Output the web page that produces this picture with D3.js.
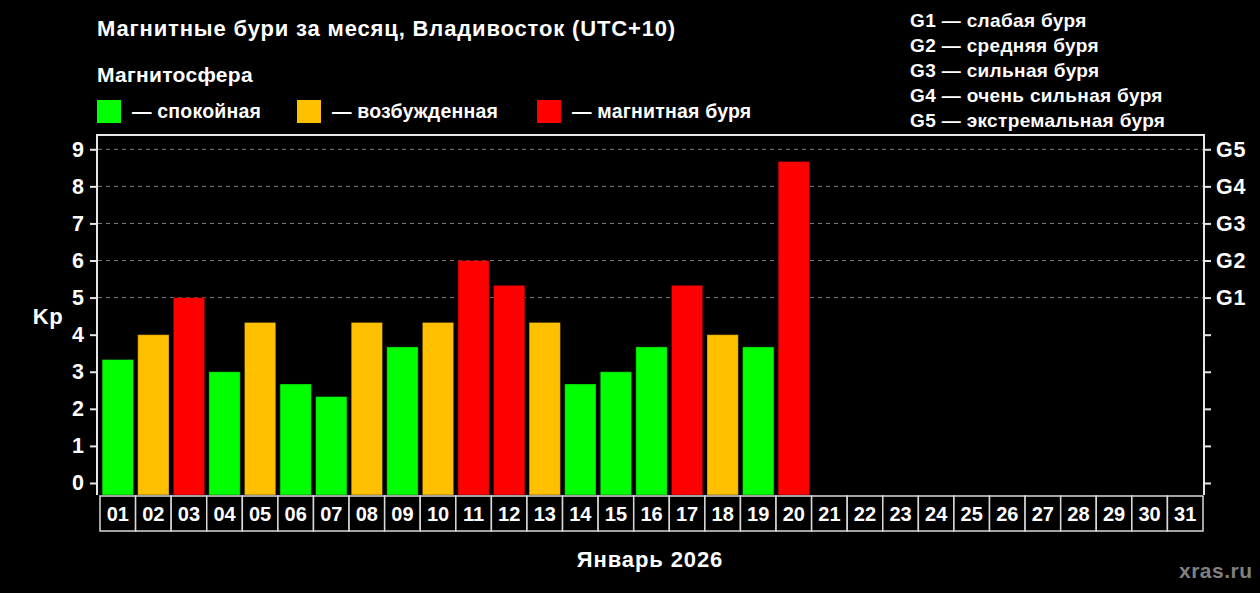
<!DOCTYPE html>
<html>
<head>
<meta charset="utf-8">
<script src="https://cdn.jsdelivr.net/npm/d3@7"></script>
<style>
  body { margin: 0; background: #000; }
  text { font-family: "Liberation Sans", Arial, sans-serif; font-weight: bold; fill: #fff; }
</style>
</head>
<body>
<script>
// data
var days = d3.range(1, 32).map(function (d) { return d3.format("02")(d); });
var kp = [3.33, 4, 5, 3, 4.33, 2.67, 2.33, 4.33, 3.67, 4.33, 6, 5.33, 4.33, 2.67, 3, 3.67, 5.33, 4, 3.67, 8.67];
var gLevels = ["G1", "G2", "G3", "G4", "G5"];
var gNames = ["G1 — слабая буря", "G2 — средняя буря", "G3 — сильная буря", "G4 — очень сильная буря", "G5 — экстремальная буря"];
var stateNames = ["— спокойная", "— возбужденная", "— магнитная буря"];
var stateColors = ["#00ff00", "#ffc000", "#ff0000"];

var w = 1260, h = 593;
var svg = d3.select("body").append("svg").attr("width", w).attr("height", h).style("background-color", "#000");

var x = d3.scaleBand().domain(days).range([100, 1203]).paddingInner(0.12).paddingOuter(0.06);
var xBox = d3.scaleBand().domain(days).range([100, 1203]);
var y = d3.scaleLinear().domain([-0.324, 9.385]).range([495, 135]);

function colorOf(v) {
  if (v >= 5) return stateColors[2];
  if (v >= 4) return stateColors[1];
  return stateColors[0];
}

// title & legend
svg.append("text").attr("x", 97).attr("y", 36).style("font-size", "22px").style("letter-spacing", "0.85px")
  .text("Магнитные бури за месяц, Владивосток (UTC+10)");
svg.append("text").attr("x", 97).attr("y", 82).style("font-size", "21px").style("letter-spacing", "0.3px").text("Магнитосфера");

var legX = [97, 297, 537];
stateNames.forEach(function (s, i) {
  svg.append("rect").attr("x", legX[i]).attr("y", 100).attr("width", 24).attr("height", 23).attr("fill", stateColors[i]);
  svg.append("text").attr("x", legX[i] + 35).attr("y", 118).style("font-size", "19.5px").style("letter-spacing", "0.2px").text(s);
});

gNames.forEach(function (s, i) {
  svg.append("text").attr("x", 910).attr("y", 27 + i * 25).style("font-size", "19px").style("letter-spacing", "0.35px").text(s);
});

// gridlines at G levels
svg.append("g").selectAll("line").data([5, 6, 7, 8, 9]).enter().append("line")
  .attr("x1", 98).attr("x2", 1203)
  .attr("y1", function (d) { return y(d); }).attr("y2", function (d) { return y(d); })
  .attr("stroke", "#808080").attr("stroke-dasharray", "4,4").attr("stroke-width", 1);

// bars
svg.append("g").selectAll("rect").data(kp).enter().append("rect")
  .attr("x", function (d, i) { return x(days[i]); })
  .attr("width", x.bandwidth())
  .attr("y", function (d) { return y(d); })
  .attr("height", function (d) { return y.range()[0] - y(d); })
  .attr("fill", function (d) { return colorOf(d); })
  .attr("stroke", "rgba(0,0,0,0.35)").attr("stroke-width", 1);

// frame
svg.append("path").attr("d", "M97,495V135H1204V495").attr("fill", "none").attr("stroke", "#e6e6e6").attr("stroke-width", 2);

// axes
var yTicks = d3.range(0, 10);
var left = svg.append("g").attr("transform", "translate(97,0)")
  .call(d3.axisLeft(y).tickValues(yTicks).tickSize(7).tickPadding(6).tickFormat(d3.format("d")));
var right = svg.append("g").attr("transform", "translate(1204,0)")
  .call(d3.axisRight(y).tickValues(yTicks).tickSize(7).tickPadding(5)
    .tickFormat(function (d) { return d >= 5 ? gLevels[d - 5] : ""; }));
[left, right].forEach(function (g) {
  g.select(".domain").remove();
  g.selectAll(".tick line").attr("stroke", "#e6e6e6").attr("stroke-width", 2);
  g.selectAll(".tick text").attr("fill", "#fff").style("font-family", "'Liberation Sans', Arial, sans-serif")
    .style("font-weight", "bold").style("font-size", "21.5px");
});
right.selectAll(".tick text").style("letter-spacing", "0.8px");

svg.append("text").attr("x", 48).attr("y", 324).attr("text-anchor", "middle").style("font-size", "22px").style("letter-spacing", "0.5px").text("Kp");

// day boxes
var boxes = svg.append("g").selectAll("g").data(days).enter().append("g");
boxes.append("rect")
  .attr("x", function (d) { return xBox(d); }).attr("y", 496)
  .attr("width", xBox.bandwidth()).attr("height", 35)
  .attr("fill", "#000").attr("stroke", "#d9d9d9").attr("stroke-width", 1.5);
boxes.append("text")
  .attr("x", function (d) { return xBox(d) + xBox.bandwidth() / 2; }).attr("y", 521)
  .attr("text-anchor", "middle").style("font-size", "20px").text(function (d) { return d; });

svg.append("text").attr("x", 650).attr("y", 567).attr("text-anchor", "middle").style("font-size", "22px").style("letter-spacing", "0.9px").text("Январь 2026");
svg.append("text").attr("x", 1252.5).attr("y", 578).attr("text-anchor", "end").style("font-size", "21px").style("letter-spacing", "0.5px").style("fill", "#808080").text("xras.ru");
</script>
</body>
</html>
